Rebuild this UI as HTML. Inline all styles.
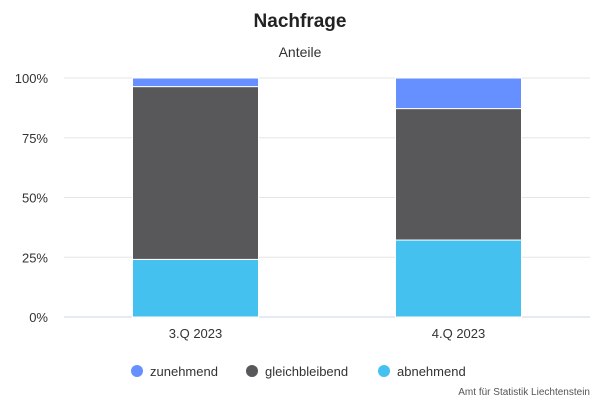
<!DOCTYPE html>
<html><head><meta charset="utf-8"><style>
body{margin:0;background:#fff;font-family:"Liberation Sans",sans-serif;}
svg text{font-family:"Liberation Sans",sans-serif;}
</style></head><body>
<svg id="c" width="600" height="400">
<text x="300" y="27" text-anchor="middle" font-size="19" font-weight="bold" fill="#222">Nachfrage</text>
<text x="300" y="57" text-anchor="middle" font-size="14" fill="#333">Anteile</text>
<g id="grid"></g><g id="bars"></g><g id="xl"></g>
<g>
<g><circle cx="137" cy="371" r="6" fill="#6690ff"/><text x="150" y="376" font-size="13" fill="#333">zunehmend</text></g>
<g><circle cx="252" cy="371" r="6" fill="#58585a"/><text x="265" y="376" font-size="13" fill="#333">gleichbleibend</text></g>
<g><circle cx="384" cy="371" r="6" fill="#45c1f0"/><text x="397" y="376" font-size="13" fill="#333">abnehmend</text></g>
</g>
<text x="590" y="395" text-anchor="end" font-size="10" fill="#555">Amt für Statistik Liechtenstein</text>
</svg>
<script>
const categories=["3.Q 2023","4.Q 2023"];
const abnehmend=[24.1,32.2];
const gleichbleibend=[72.3,55];
const zunehmend=[3.6,12.8];
const ticks=[0,25,50,75,100];
const tickLabels=["0%","25%","50%","75%","100%"];
const NS="http://www.w3.org/2000/svg";
const x0=64,x1=590,y0=317,y1=78;
const y=v=>y0-(y0-y1)*v/100;
const bw=(x1-x0)/categories.length;
function mk(t,a,p){const e=document.createElementNS(NS,t);for(const k in a)e.setAttribute(k,a[k]);p.appendChild(e);return e;}
const g=document.getElementById('grid');
ticks.forEach((t,i)=>{
 const l=mk('line',{x1:x0,x2:x1,y1:y(t),y2:y(t),stroke:t===0?'#ccd6eb':'#e6e6e6','stroke-width':1},g);
 
 
 const tx=mk('text',{x:48,y:y(t)+5,'text-anchor':'end','font-size':13,fill:'#333'},g);
 tx.textContent=tickLabels[i];
 
 
});
const series=[[abnehmend,'#45c1f0','abnehmend'],[gleichbleibend,'#58585a','gleichbleibend'],[zunehmend,'#6690ff','zunehmend']];
const b=document.getElementById('bars'),xl=document.getElementById('xl');
categories.forEach((c,i)=>{
 const cx=x0+bw*(i+0.5);let acc=0;
 series.forEach(([arr,col,nm])=>{
  const v=arr[i];
  const r=mk('rect',{x:cx-63,width:126,y:y(acc+v),height:y(acc)-y(acc+v),fill:col,stroke:'#fff','stroke-width':1},b);
  
  
  acc+=v;
 });
 const t=mk('text',{x:cx,y:338,'text-anchor':'middle','font-size':13,fill:'#333'},xl);
 t.textContent=c;
 
 
});
</script>
</body></html>
